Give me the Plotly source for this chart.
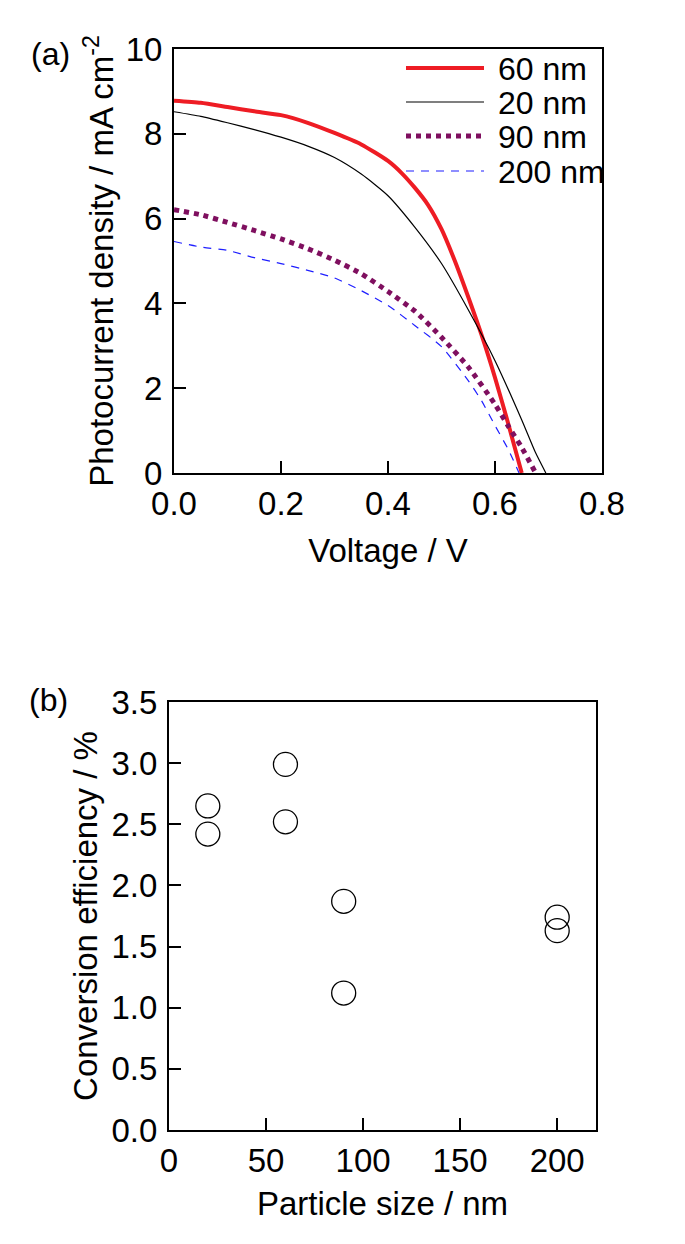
import plotly.graph_objects as go

# ---------------- data: panel (a) J-V curves ----------------
v_60 = [0, 0.05, 0.1, 0.15, 0.2, 0.25, 0.3, 0.35, 0.4, 0.425, 0.45, 0.475, 0.5, 0.525, 0.55, 0.575, 0.6, 0.625, 0.65]
j_60 = [8.78, 8.73, 8.63, 8.53, 8.44, 8.26, 8.02, 7.75, 7.36, 7.08, 6.73, 6.32, 5.75, 5.0, 4.15, 3.25, 2.25, 1.15, 0.0]

v_20 = [0, 0.05, 0.1, 0.15, 0.2, 0.25, 0.3, 0.35, 0.4, 0.45, 0.5, 0.55, 0.6, 0.65, 0.675, 0.695]
j_20 = [8.52, 8.41, 8.26, 8.10, 7.92, 7.71, 7.44, 7.05, 6.54, 5.80, 4.94, 3.85, 2.65, 1.25, 0.5, 0.0]

v_90 = [0, 0.05, 0.1, 0.15, 0.2, 0.25, 0.3, 0.35, 0.4, 0.45, 0.5, 0.55, 0.6, 0.625, 0.65, 0.676]
j_90 = [6.21, 6.09, 5.91, 5.72, 5.52, 5.29, 5.02, 4.70, 4.28, 3.82, 3.2, 2.5, 1.62, 1.1, 0.6, 0.0]

v_200 = [0, 0.05, 0.1, 0.15, 0.2, 0.25, 0.3, 0.35, 0.4, 0.45, 0.5, 0.55, 0.575, 0.6, 0.625, 0.645]
j_200 = [5.46, 5.33, 5.25, 5.08, 4.94, 4.78, 4.60, 4.30, 3.95, 3.48, 2.98, 2.18, 1.70, 1.12, 0.55, 0.0]

series_labels = ["60 nm", "20 nm", "90 nm", "200 nm"]

# ---------------- data: panel (b) efficiency ----------------
particle_size = [20, 20, 60, 60, 90, 90, 200, 200]
efficiency = [2.65, 2.42, 2.99, 2.52, 1.87, 1.12, 1.74, 1.63]

x_ticks_a = [0.0, 0.2, 0.4, 0.6, 0.8]
y_ticks_a = [0, 2, 4, 6, 8, 10]
x_ticks_b = [0, 50, 100, 150, 200]
y_ticks_b = [0.0, 0.5, 1.0, 1.5, 2.0, 2.5, 3.0, 3.5]

# ---------------- styling ----------------
W, H = 685, 1244
FONT = "Liberation Sans, Arial, sans-serif"
styles = [
    dict(color="#ee1c24", width=4, dash="solid"),
    dict(color="black", width=1.2, dash="solid"),
    dict(color="#7f0f5f", width=5, dash="dot"),
    dict(color="#1f1fff", width=1.2, dash="8px,7px"),
]

def px_x(p):
    return p / W

def px_y(p):
    return 1 - p / H

fig = go.Figure()
curves = [(v_60, j_60), (v_20, j_20), (v_90, j_90), (v_200, j_200)]
for (v, j), lab, st in zip(curves, series_labels, styles):
    fig.add_trace(go.Scatter(x=v, y=j, mode="lines", name=lab,
                             line=dict(**st, shape="spline", smoothing=0.6),
                             showlegend=False, xaxis="x", yaxis="y"))

fig.add_trace(go.Scatter(x=particle_size, y=efficiency, mode="markers",
                         marker=dict(symbol="circle-open", size=24, color="black",
                                     line=dict(width=1.3, color="black")),
                         showlegend=False, xaxis="x2", yaxis="y2"))

axis_common = dict(showline=True, linecolor="black", linewidth=2, mirror=True,
                   ticks="inside", ticklen=12, tickwidth=2, tickcolor="black",
                   showgrid=False, zeroline=False, automargin=False,
                   tickfont=dict(family=FONT, size=33, color="black"))

fig.update_layout(
    template="none",
    width=W, height=H, margin=dict(l=0, r=0, t=0, b=0, pad=0),
    paper_bgcolor="white", plot_bgcolor="white",
    font=dict(family=FONT, color="black"),
    xaxis=dict(domain=[px_x(166), px_x(594)], range=[0, 0.8], tickvals=x_ticks_a,
               tickformat=".1f", anchor="y",
               title=dict(text="Voltage / V", font=dict(family=FONT, size=33), standoff=18),
               **axis_common),
    yaxis=dict(domain=[px_y(465), px_y(41)], range=[0, 10], tickvals=y_ticks_a,
               anchor="x", ticklabelstandoff=3,
               title=dict(text="Photocurrent density / mA cm<sup>-2</sup>",
                          font=dict(family=FONT, size=33), standoff=2),
               **axis_common),
    xaxis2=dict(domain=[px_x(161), px_x(588)], range=[0, 220], tickvals=x_ticks_b,
                anchor="y2",
                title=dict(text="Particle size / nm", font=dict(family=FONT, size=33), standoff=14),
                **axis_common),
    yaxis2=dict(domain=[px_y(1122), px_y(694)], range=[0, 3.5], tickvals=y_ticks_b,
                tickformat=".1f", anchor="x2", ticklabelstandoff=3,
                title=dict(text="Conversion efficiency / %",
                           font=dict(family=FONT, size=33), standoff=4),
                **axis_common),
)

# panel labels
fig.add_annotation(text="(a)", x=px_x(42), y=px_y(46), xref="paper", yref="paper",
                   xanchor="center", yanchor="middle",
                   showarrow=False, font=dict(family=FONT, size=32, color="black"))
fig.add_annotation(text="(b)", x=px_x(40), y=px_y(692), xref="paper", yref="paper",
                   xanchor="center", yanchor="middle",
                   showarrow=False, font=dict(family=FONT, size=32, color="black"))

# legend (panel a)
legend_rows = [60, 94, 128, 163]
for row, lab, st in zip(legend_rows, series_labels, styles):
    fig.add_shape(type="line", xref="paper", yref="paper",
                  x0=px_x(398), x1=px_x(476), y0=px_y(row), y1=px_y(row),
                  line=dict(color=st["color"], width=st["width"], dash=st["dash"]))
    fig.add_annotation(text=lab, x=px_x(488), y=px_y(row + 1), xref="paper", yref="paper",
                       xanchor="left", yanchor="middle", showarrow=False,
                       font=dict(family=FONT, size=32, color="black"))

fig.write_html("out.html")
